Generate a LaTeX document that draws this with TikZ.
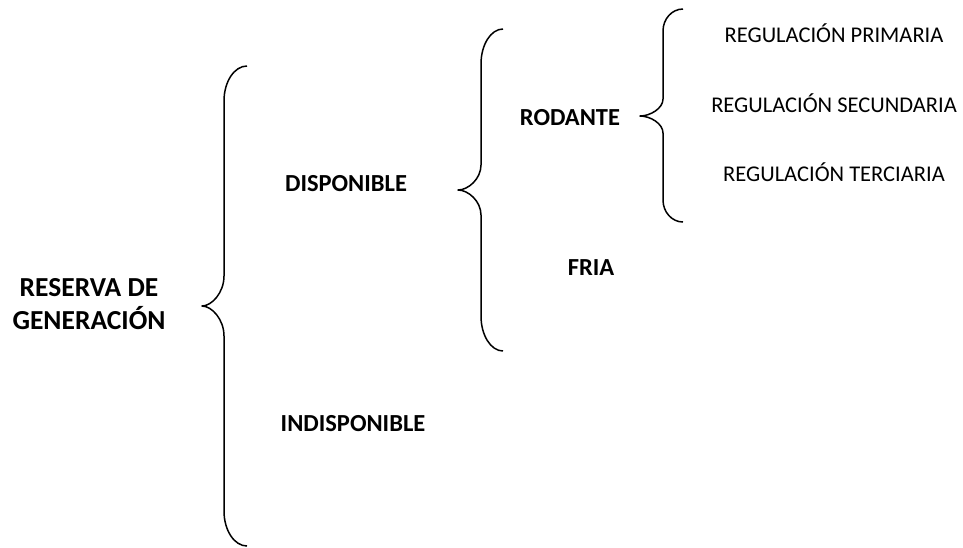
\documentclass[tikz,border=0pt]{standalone}
\usepackage{fontspec}
\setmainfont{Carlito}
\tikzset{
  bracestyle/.style={line width=1.5pt, line join=round},
  bigbold/.style={font=\fontsize{27.5}{33}\selectfont\bfseries, inner sep=0pt, anchor=base},
  boldlabel/.style={font=\fontsize{24.5}{29}\selectfont\bfseries, inner sep=0pt, anchor=base},
  reglabel/.style={font=\fontsize{22.5}{27}\selectfont, inner sep=0pt, anchor=base}
}
\newcommand\mybrace[8]{%
  \draw[bracestyle] (#1,#4) .. controls ({#2+0.448*(#1-#2)},#4) and (#2,{#4+0.448*#7}) .. (#2,{#4+#7})
    -- (#2,{#5-#8}) .. controls (#2,{#5-0.448*#8}) and ({#3+0.448*(#2-#3)},#5) .. (#3,#5)
    .. controls ({#3+0.448*(#2-#3)},#5) and (#2,{#5+0.448*#8}) .. (#2,{#5+#8})
    -- (#2,{#6-#7}) .. controls (#2,{#6-0.448*#7}) and ({#2+0.448*(#1-#2)},#6) .. (#1,#6);}
\begin{document}
\begin{tikzpicture}[x=1pt,y=-1pt]
\useasboundingbox (0,0) rectangle (963,547);
\node[bigbold] (reserva1) at (89,296) {RESERVA DE};
\node[bigbold] (reserva2) at (89,329) {GENERACIÓN};
\node[boldlabel] (disp) at (346,191) {DISPONIBLE};
\node[boldlabel] (indisp) at (353,431) {INDISPONIBLE};
\node[boldlabel] (rodante) at (570,125) {RODANTE};
\node[boldlabel] (fria) at (591,275) {FRIA};
\node[reglabel] (prim) at (834,42) {REGULACIÓN PRIMARIA};
\node[reglabel] (sec) at (834,112) {REGULACIÓN SECUNDARIA};
\node[reglabel] (ter) at (834,181) {REGULACIÓN TERCIARIA};
\mybrace{247}{224}{202}{66}{306}{546}{35}{30}
\mybrace{503}{481}{458}{29}{190}{351}{35}{25}
\mybrace{683}{663}{640}{9}{116}{222}{22}{17}
\end{tikzpicture}
\end{document}
